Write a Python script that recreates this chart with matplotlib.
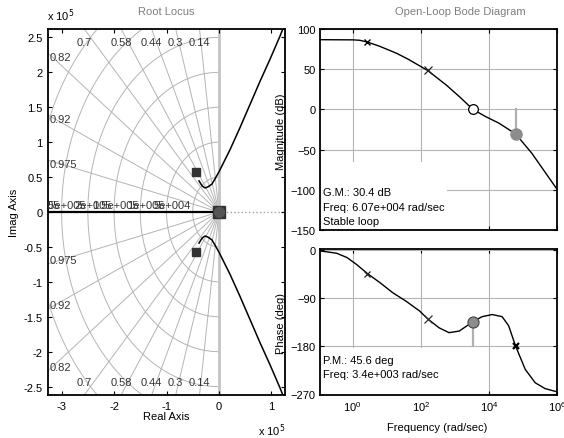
import numpy as np
import matplotlib.pyplot as plt
from matplotlib.ticker import FuncFormatter, FixedLocator, NullLocator
from matplotlib.patches import Rectangle

plt.rcParams['font.family'] = ['Liberation Sans', 'DejaVu Sans']
plt.rcParams['font.size'] = 8

# ---- root locus data (rad/sec) ----
zeta_lines = [0.14, 0.3, 0.44, 0.58, 0.7, 0.82, 0.92, 0.975]
zeta_labels = ['0.14', '0.3', '0.44', '0.58', '0.7', '0.82', '0.92', '0.975']
wn_arcs = [0.5e5, 1e5, 1.5e5, 2e5, 2.5e5, 3e5, 3.5e5]
wn_labels = ['5e+004', '1e+005', '1.5e+005', '2e+005', '2.5e+005', '3e+005', '3.5e+005']

# upper complex branch, lower one is its mirror
branch_re = [-0.38e5, -0.32e5, -0.267e5, -0.21e5, -0.133e5, -0.076e5, 0.0,
             0.095e5, 0.21e5, 0.40e5, 0.59e5, 0.78e5, 0.97e5, 1.16e5, 1.25e5]
branch_im = [0.445e5, 0.373e5, 0.344e5, 0.359e5, 0.40e5, 0.473e5, 0.574e5,
             0.717e5, 0.89e5, 1.205e5, 1.535e5, 1.865e5, 2.18e5, 2.51e5, 2.68e5]
cl_pole_re = [-0.44e5, -0.44e5, 0.0]
cl_pole_im = [0.57e5, -0.57e5, 0.0]

# ---- bode data ----
w_mag = [0.11, 1.0, 1.6, 2.7, 6.3, 19, 42, 158, 550, 1350, 3400, 7900,
         19500, 60700, 182000, 1e6]
mag_db = [86.7, 86.5, 86.0, 83.8, 78.4, 70, 62.6, 48.5, 30.6, 16, 0, -8.8,
          -17, -30.4, -54.5, -99.3]
w_phase = [0.11, 0.34, 0.68, 1.3, 2.7, 6.3, 15, 37, 91, 166, 347, 676, 1350,
           3400, 6300, 12600, 24500, 38000, 60700, 117000, 229000, 447000, 1e6]
phase_deg = [-1.5, -6, -14, -27, -44, -61, -80, -96, -114, -130, -146, -155,
             -152, -134.4, -125, -121, -125, -142, -180, -224, -249, -260, -266]

comp_w = [2.7, 158]
comp_mag = [83.8, 48.5]
comp_phase = [-44, -130]
gm_w, gm_db = 6.07e4, -30.4
pm_w, pm_deg = 3.4e3, -134.4
xover_w = 3.4e3

W, H = 564, 439
fig = plt.figure(figsize=(W / 100, H / 100), dpi=100)


def fx(px):
    return px / W


def fy(py):
    return 1 - py / H


grid_c = '#b4b4b4'

# ================= root locus =================
ax = fig.add_axes([fx(48), fy(396), fx(285 - 48), (396 - 30) / H])
x0, x1 = -3.26e5, 1.26e5
y0, y1 = -2.62e5, 2.62e5
ax.set_xlim(x0, x1)
ax.set_ylim(y0, y1)

for z, lab in zip(zeta_lines, zeta_labels):
    s = np.sqrt(1 - z ** 2)
    R = 6e5
    ax.plot([0, -z * R], [0, s * R], color=grid_c, lw=0.7, zorder=1)
    ax.plot([0, -z * R], [0, -s * R], color=grid_c, lw=0.7, zorder=1)
    xt = -y1 * z / s
    if xt > x0:
        ax.text(xt, 2.44e5, lab, ha='center', va='center', color='#333333')
        ax.text(xt, -2.44e5, lab, ha='center', va='center', color='#333333')
    else:
        yt = -x0 * s / z - 0.06e5
        ax.text(-3.22e5, yt, lab, ha='left', va='center', color='#333333')
        ax.text(-3.22e5, -yt, lab, ha='left', va='center', color='#333333')

th = np.linspace(np.pi / 2, 3 * np.pi / 2, 200)
for r, lab in zip(wn_arcs, wn_labels):
    ax.plot(r * np.cos(th), r * np.sin(th), color=grid_c, lw=0.7, zorder=1)
    if -r > x0:
        ax.text(-r - 0.04e5, 0.03e5, lab, ha='right', va='bottom',
                color='#333333', clip_on=True)

ax.axvline(0, color='#c4c4c4', lw=2, zorder=1)
ax.plot([0, x1], [0, 0], ls=':', color='#a0a0a0', lw=1, zorder=1)
ax.plot([x0, 0], [0, 0], color='k', lw=1.6, zorder=3)

ax.plot(branch_re, branch_im, color='k', lw=1.1, zorder=3)
ax.plot(branch_re, [-v for v in branch_im], color='k', lw=1.1, zorder=3)
ax.plot(cl_pole_re[:2], cl_pole_im[:2], ls='none', marker='s', ms=6,
        color='#333333', zorder=4)
ax.plot(cl_pole_re[2:], cl_pole_im[2:], ls='none', marker='s', ms=8,
        color='#333333', zorder=4)
ax.plot(cl_pole_re[2:], cl_pole_im[2:], ls='none', marker='o', ms=7,
        color='#555555', zorder=4)

ax.xaxis.set_major_locator(FixedLocator([-3e5, -2e5, -1e5, 0, 1e5]))
ax.yaxis.set_major_locator(FixedLocator(np.arange(-2.5e5, 2.6e5, 0.5e5)))
fmt = FuncFormatter(lambda v, p: '%g' % round(v / 1e5, 2))
ax.xaxis.set_major_formatter(fmt)
ax.yaxis.set_major_formatter(fmt)
ax.tick_params(direction='in', top=True, right=True, length=3, width=0.8,
               pad=4)
for sp in ax.spines.values():
    sp.set_linewidth(1.3)

fig.text(fx(166), fy(12), 'Root Locus', ha='center', va='center',
         color='#7f7f7f')
fig.text(fx(47), fy(21), r'x 10$^5$', ha='left', va='baseline')
fig.text(fx(258), fy(436), r'x 10$^5$', ha='left', va='baseline')
fig.text(fx(14), fy(213), 'Imag Axis', rotation=90, ha='center', va='center')
fig.text(fx(166), fy(417), 'Real Axis', ha='center', va='center')

# ================= bode magnitude =================
bl, br = 320, 557
axm = fig.add_axes([fx(bl), fy(231), fx(br - bl), (231 - 30) / H])
axp = fig.add_axes([fx(bl), fy(396), fx(br - bl), (396 - 250) / H])

for a in (axm, axp):
    a.set_xscale('log')
    a.set_xlim(0.11, 1e6)
    a.xaxis.set_major_locator(FixedLocator([1, 1e2, 1e4, 1e6]))
    a.xaxis.set_minor_locator(NullLocator())
    a.set_axisbelow(True)
    a.grid(True, color=grid_c, lw=0.8)
    a.tick_params(direction='in', top=True, right=True, length=3, width=0.8,
                  pad=3)
    for sp in a.spines.values():
        sp.set_linewidth(1.3)

axm.set_ylim(-150, 100)
axm.set_yticks([100, 50, 0, -50, -100, -150])
axm.tick_params(labelbottom=False)
axm.add_patch(Rectangle((0, 0), 0.536, 0.34, transform=axm.transAxes,
                        facecolor='white', edgecolor='none', zorder=1))
axm.plot(w_mag, mag_db, color='k', lw=1, zorder=3)
axm.plot([gm_w, gm_w], [0, gm_db], color='#b0b0b0', lw=1.6, zorder=2)
axm.plot(comp_w[:1], comp_mag[:1], ls='none', marker='x', ms=4, mew=1,
         color='k', zorder=4)
axm.plot(comp_w[1:], comp_mag[1:], ls='none', marker='x', ms=6, mew=0.9,
         color='#222222', zorder=4)
axm.plot([xover_w], [0], ls='none', marker='o', ms=7, mfc='white',
         mec='k', mew=0.9, zorder=4)
axm.plot([gm_w], [gm_db], ls='none', marker='o', ms=8, color='#8c8c8c',
         zorder=4)
axm.text(0.11 * 1.25, -97, 'G.M.: 30.4 dB\nFreq: 6.07e+004 rad/sec\n'
         'Stable loop', ha='left', va='top', linespacing=1.55, zorder=5)

# ================= bode phase =================
axp.set_ylim(-272, 2)
axp.set_yticks([0, -90, -180, -270])
axp.add_patch(Rectangle((0, 0), 0.506, 0.325, transform=axp.transAxes,
                        facecolor='white', edgecolor='none', zorder=1))
axp.plot(w_phase, phase_deg, color='k', lw=1, zorder=3)
axp.plot([pm_w, pm_w], [-180, pm_deg], color='#b0b0b0', lw=1.6, zorder=2)
axp.plot(comp_w[:1], comp_phase[:1], ls='none', marker='x', ms=4, mew=0.9,
         color='#222222', zorder=4)
axp.plot(comp_w[1:], comp_phase[1:], ls='none', marker='x', ms=6, mew=0.9,
         color='#333333', zorder=4)
axp.plot([pm_w], [pm_deg], ls='none', marker='o', ms=8, mfc='#8c8c8c',
         mec='#444444', mew=0.8, zorder=4)
axp.plot([gm_w], [-180], ls='none', marker='x', ms=5, mew=1.6,
         color='k', zorder=4)
axp.text(0.11 * 1.25, -196, 'P.M.: 45.6 deg\nFreq: 3.4e+003 rad/sec',
         ha='left', va='top', linespacing=1.55, zorder=5)

fig.text(fx(460), fy(12), 'Open-Loop Bode Diagram', ha='center',
         va='center', color='#7f7f7f')
fig.text(fx(281), fy(132), 'Magnitude (dB)', rotation=90, ha='center',
         va='center')
fig.text(fx(281), fy(323), 'Phase (deg)', rotation=90, ha='center',
         va='center')
fig.text(fx(437), fy(428), 'Frequency (rad/sec)', ha='center', va='center')

fig.savefig('out.png', dpi=100)
